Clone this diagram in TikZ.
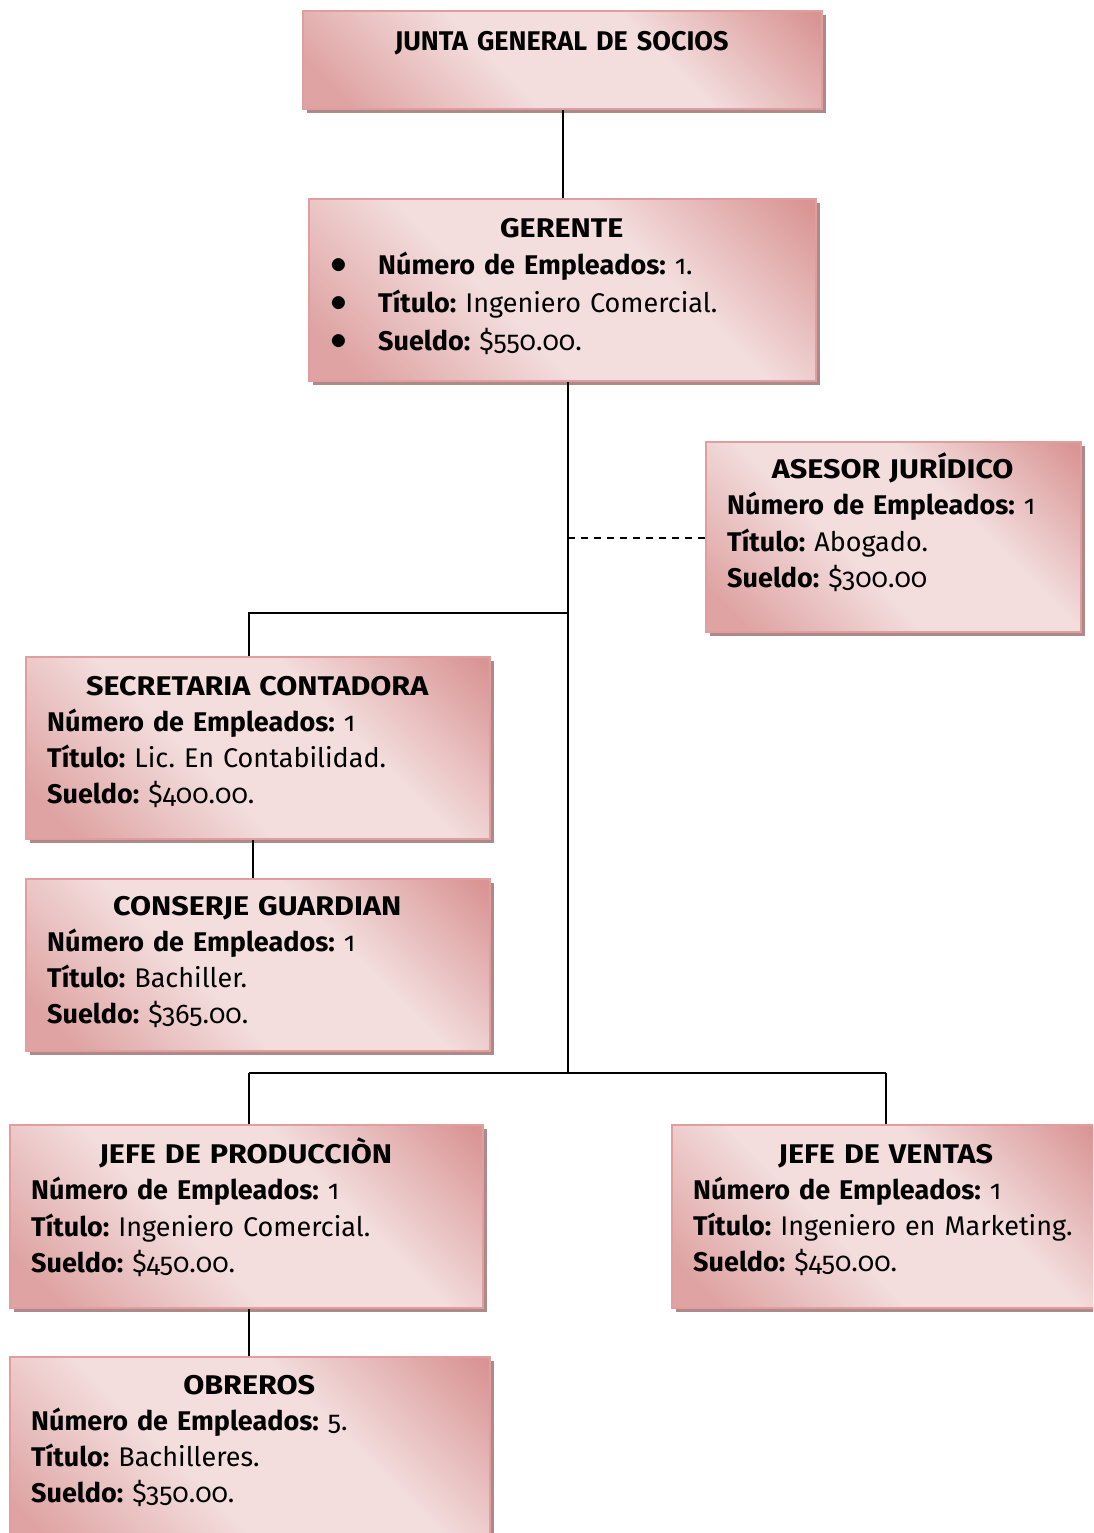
\documentclass[tikz,border=0pt]{standalone}
\usepackage{fontspec}
\setmainfont{Fira Sans}[Numbers=OldStyle]
\newfontfamily\widettl{Fira Sans}[FakeStretch=1.13]
\usetikzlibrary{shadows,calc}
\setlength\parindent{0pt}
\frenchspacing

\definecolor{rdark}{RGB}{217,149,148}
\definecolor{rmid}{RGB}{222,163,162}
\definecolor{rlight}{RGB}{243,221,221}
\definecolor{rborder}{RGB}{226,158,158}
\definecolor{rshadow}{RGB}{172,138,138}

% diagonal rose gradient: dark corners top-right / bottom-left, light band between
\pgfdeclarehorizontalshading{rosediag}{100bp}{%
  color(0bp)=(rmid); color(20bp)=(rmid); color(42bp)=(rlight);
  color(62bp)=(rlight); color(84bp)=(rdark); color(100bp)=(rdark)}

\newcommand\boxtitle[1]{\makebox[\hsize][c]{\strut\widettl\bfseries #1}\\}
\newcommand\plaintitle[1]{\makebox[\hsize][c]{\strut\bfseries #1}\\}
\newcommand\fld[2]{\textbf{#1} #2}
\newcommand\blt{\makebox[48pt][l]{\raisebox{1pt}{\scalebox{1.35}{$\bullet$}}}}

\tikzset{
  x=1pt, y=-1pt,
  orgbox/.style={rectangle, anchor=north west, inner sep=0pt,
    draw=rborder, line width=2pt,
    shading=rosediag, shading angle=45,
    drop shadow={shadow xshift=4pt, shadow yshift=-4pt, fill=rshadow, opacity=1}},
  orgtext/.style={anchor=north west, inner sep=0pt, align=left,
    font=\fontsize{27}{36.2}\selectfont},
  link/.style={line width=2pt, black},
  advice/.style={line width=2pt, black, dash pattern=on 7pt off 6pt},
}

\begin{document}
\begin{tikzpicture}
\useasboundingbox (0,0) rectangle (1093,1533);
\clip (0,0) rectangle (1093,1533);

% ---------- boxes ----------
\node[orgbox, minimum width=519, minimum height=98]  (junta)      at (302,10)   {};
\node[orgbox, minimum width=507, minimum height=182] (gerente)    at (308,198)  {};
\node[orgbox, minimum width=375, minimum height=190] (asesor)     at (705,441)  {};
\node[orgbox, minimum width=464, minimum height=182] (secretaria) at (25,656)   {};
\node[orgbox, minimum width=464, minimum height=172] (conserje)   at (25,878)   {};
\node[orgbox, minimum width=473, minimum height=183] (jefeprod)   at (9,1124)   {};
\node[orgbox, minimum width=429, minimum height=183] (jefeventas) at (671,1124) {};
\node[orgbox, minimum width=480, minimum height=200] (obreros)    at (9,1356)   {};

% ---------- connectors ----------
\coordinate (busA) at (568,613);
\coordinate (busB) at (568,1073);
\coordinate (adv)  at (568,538);

\draw[link] (junta.south) -- (gerente.north);
\draw[link] (gerente.south -| busB) -- (busB);
\draw[advice] (adv) -- (adv -| asesor.west);
\draw[link] (busA) -| ([xshift=-9pt]secretaria.north);
\draw[link] ([xshift=-5pt]secretaria.south) -- ([xshift=-5pt]conserje.north);
\draw[link] ([xshift=2.5pt]jefeprod.north |- busB) -- ([xshift=-0.5pt]jefeventas.north |- busB);
\draw[link] ([xshift=2.5pt]jefeprod.north |- busB) -- ([xshift=2.5pt]jefeprod.north);
\draw[link] ([xshift=-0.5pt]jefeventas.north |- busB) -- ([xshift=-0.5pt]jefeventas.north);
\draw[link] ([xshift=2.5pt]jefeprod.south) -- ([xshift=2.5pt]jefeprod.south |- obreros.north);

% ---------- texts ----------
\node[orgtext, text width=475] (junta-t) at (324,50-25.34)
  {\plaintitle{JUNTA GENERAL DE SOCIOS}};

\node[orgtext, text width=463, font=\fontsize{27}{37.6}\selectfont] (gerente-t) at (330,237-26.32)
  {\boxtitle{GERENTE}
   \blt\fld{Número de Empleados:}{1.}\\
   \blt\fld{Título:}{Ingeniero Comercial.}\\
   \blt\fld{Sueldo:}{\$550.00.}};

\node[orgtext, text width=331] (asesor-t) at (727,478-25.34)
  {\boxtitle{ASESOR JURÍDICO}
   \fld{Número de Empleados:}{1}\\
   \fld{Título:}{Abogado.}\\
   \fld{Sueldo:}{\$300.00}};

\node[orgtext, text width=420] (secretaria-t) at (47,695-25.34)
  {\boxtitle{SECRETARIA CONTADORA}
   \fld{Número de Empleados:}{1}\\
   \fld{Título:}{Lic. En Contabilidad.}\\
   \fld{Sueldo:}{\$400.00.}};

\node[orgtext, text width=420] (conserje-t) at (47,915-25.34)
  {\boxtitle{CONSERJE GUARDIAN}
   \fld{Número de Empleados:}{1}\\
   \fld{Título:}{Bachiller.}\\
   \fld{Sueldo:}{\$365.00.}};

\node[orgtext, text width=429] (jefeprod-t) at (31,1163-25.34)
  {\boxtitle{JEFE DE PRODUCCIÒN}
   \fld{Número de Empleados:}{1}\\
   \fld{Título:}{Ingeniero Comercial.}\\
   \fld{Sueldo:}{\$450.00.}};

\node[orgtext, text width=385] (jefeventas-t) at (693,1163-25.34)
  {\boxtitle{JEFE DE VENTAS}
   \fld{Número de Empleados:}{1}\\
   \fld{Título:}{Ingeniero en Marketing.}\\
   \fld{Sueldo:}{\$450.00.}};

\node[orgtext, text width=436] (obreros-t) at (31,1394-25.34)
  {\boxtitle{OBREROS}
   \fld{Número de Empleados:}{5.}\\
   \fld{Título:}{Bachilleres.}\\
   \fld{Sueldo:}{\$350.00.}};
\end{tikzpicture}
\end{document}
